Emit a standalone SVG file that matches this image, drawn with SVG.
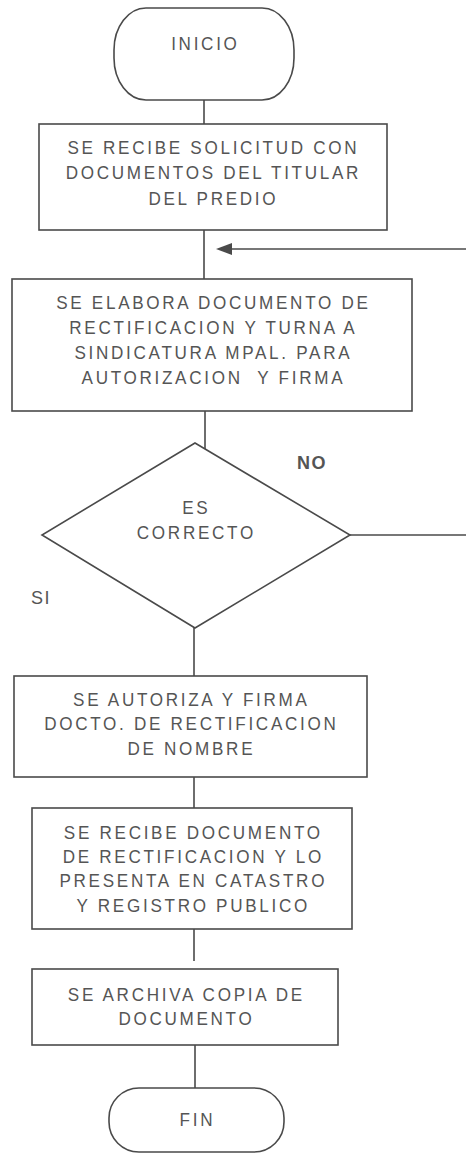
<svg xmlns="http://www.w3.org/2000/svg" width="466" height="1154" viewBox="0 0 466 1154">
<style>
.s{fill:none;stroke:#4a4a4a;stroke-width:1.6}
.t{font-family:"Liberation Sans",Arial,sans-serif;font-size:19px;letter-spacing:3px;fill:#555;text-anchor:middle}
.l{font-family:"Liberation Sans",Arial,sans-serif;font-size:18px;letter-spacing:1.5px;fill:#555;text-anchor:middle}
.b{font-weight:bold}
</style>
<rect width="466" height="1154" fill="#fff"/>
<g id="connectors" class="s">
<line x1="204" y1="100" x2="204" y2="124"/>
<line x1="204" y1="230" x2="204" y2="279"/>
<line x1="466" y1="249" x2="232" y2="249"/>
<polygon points="216,249 232,243 232,255" fill="#4a4a4a" stroke="none"/>
<line x1="205" y1="411" x2="205" y2="449"/>
<line x1="350" y1="535" x2="466" y2="535"/>
<line x1="194" y1="628" x2="194" y2="676"/>
<line x1="194" y1="777" x2="194" y2="808"/>
<line x1="194" y1="929" x2="194" y2="961"/>
<line x1="195" y1="1045" x2="195" y2="1088"/>
</g>
<g id="inicio">
<rect class="s" x="114" y="8" width="180" height="92" rx="32" ry="42"/>
<text class="t" transform="scale(0.9,1)" x="228.2" y="50">INICIO</text>
</g>
<g id="recibe">
<rect class="s" x="39" y="124" width="348" height="106"/>
<g transform="scale(0.9,1)">
<text class="t" x="237.1" y="154">SE RECIBE SOLICITUD CON</text>
<text class="t" x="237.1" y="179">DOCUMENTOS DEL TITULAR</text>
<text class="t" x="237.1" y="205">DEL PREDIO</text>
</g>
</g>
<g id="elabora">
<rect class="s" x="12" y="279" width="400" height="132"/>
<g transform="scale(0.9,1)">
<text class="t" x="237.1" y="309">SE ELABORA DOCUMENTO DE</text>
<text class="t" x="237.1" y="334">RECTIFICACION Y TURNA A</text>
<text class="t" x="237.1" y="359">SINDICATURA MPAL. PARA</text>
<text class="t" x="237.1" y="384">AUTORIZACION&#160; Y FIRMA</text>
</g>
</g>
<g id="decision">
<polygon class="s" points="195,443 350,535 195,628 42,535"/>
<g transform="scale(0.9,1)">
<text class="t" x="218.2" y="514">ES</text>
<text class="t" x="218.2" y="539">CORRECTO</text>
</g>
</g>
<g id="labels">
<text class="l b" x="312" y="469">NO</text>
<text class="l" x="41" y="604">SI</text>
</g>
<g id="autoriza">
<rect class="s" x="14" y="676" width="353" height="101"/>
<g transform="scale(0.9,1)">
<text class="t" x="212.6" y="706">SE AUTORIZA Y FIRMA</text>
<text class="t" x="212.6" y="730">DOCTO. DE RECTIFICACION</text>
<text class="t" x="212.6" y="755">DE NOMBRE</text>
</g>
</g>
<g id="presenta">
<rect class="s" x="32" y="808" width="320" height="121"/>
<g transform="scale(0.9,1)">
<text class="t" x="214.8" y="839">SE RECIBE DOCUMENTO</text>
<text class="t" x="214.8" y="863">DE RECTIFICACION Y LO</text>
<text class="t" x="214.8" y="887">PRESENTA EN CATASTRO</text>
<text class="t" x="214.8" y="912">Y REGISTRO PUBLICO</text>
</g>
</g>
<g id="archiva">
<rect class="s" x="32" y="969" width="306" height="76"/>
<g transform="scale(0.9,1)">
<text class="t" x="207.1" y="1001">SE ARCHIVA COPIA DE</text>
<text class="t" x="207.1" y="1025">DOCUMENTO</text>
</g>
</g>
<g id="fin">
<rect class="s" x="109" y="1088" width="175" height="64" rx="30" ry="30"/>
<text class="t" transform="scale(0.9,1)" x="219.3" y="1126">FIN</text>
</g>
</svg>
